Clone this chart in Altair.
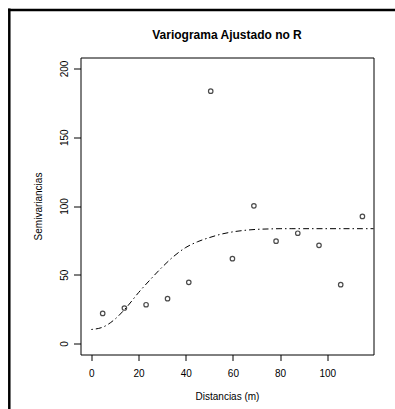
import altair as alt
import pandas as pd

dist = [4.8, 14.0, 23.2, 32.3, 41.3, 50.6, 59.8, 68.9, 78.3, 87.5, 96.5, 105.7, 114.9]
semiv = [21.9, 25.8, 28.2, 32.6, 44.5, 183.5, 61.7, 100.1, 74.4, 80.2, 71.4, 42.8, 92.4]

# Fitted model curve
curve_x = [0, 5, 10, 15, 20, 25, 30, 35, 40, 45, 50, 55, 60, 65, 70, 75, 80, 85, 90, 95, 100, 105, 110, 115, 120]
curve_y = [10.2, 12.0, 17.7, 26.5, 37.0, 46.5, 55.5, 63.5, 69.8, 74.0, 77.0, 79.5, 81.2, 82.3, 83.0, 83.3, 83.5, 83.5, 83.5, 83.5, 83.5, 83.5, 83.5, 83.5, 83.5]

x_ticks = [0, 20, 40, 60, 80, 100]
y_ticks = [0, 50, 100, 150, 200]
title_text = "Variograma Ajustado no R"

pts = pd.DataFrame({"d": dist, "g": semiv})
crv = pd.DataFrame({"d": curve_x, "g": curve_y})

FONT = "Liberation Sans"
W, H = 293, 297

xscale = alt.Scale(domain=[-4.6, 119.6], nice=False, zero=False)
yscale = alt.Scale(domain=[-8, 208], nice=False, zero=False)

xaxis = alt.Axis(
    title="Distancias (m)", values=x_ticks, grid=False, domain=False,
    tickSize=6, tickColor="black", tickWidth=1,
    labelFont=FONT, labelFontSize=10, labelColor="black", labelPadding=8,
    titleFont=FONT, titleFontSize=10, titleFontWeight="normal", titleColor="black",
    titleX=W / 2, titleY=42, titleBaseline="middle", titleAlign="center",
)
yaxis = alt.Axis(
    title="Semivariancias", values=y_ticks, grid=False, domain=False,
    tickSize=7, tickColor="black", tickWidth=1,
    labelFont=FONT, labelFontSize=10, labelColor="black", labelPadding=4,
    labelAngle=-90, labelAlign="center", labelBaseline="bottom",
    titleFont=FONT, titleFontSize=10, titleFontWeight="normal", titleColor="black",
    titleAngle=-90, titleX=-42, titleY=H / 2, titleBaseline="middle", titleAlign="center",
)

points = alt.Chart(pts).mark_point(
    shape="circle", filled=False, color="black", size=20, strokeWidth=1.2
).encode(
    x=alt.X("d:Q", scale=xscale, axis=xaxis),
    y=alt.Y("g:Q", scale=yscale, axis=yaxis),
)

line = alt.Chart(crv).mark_line(
    color="black", strokeWidth=1, strokeDash=[1.5, 3, 6, 3], interpolate="monotone", clip=True
).encode(
    x=alt.X("d:Q", scale=xscale),
    y=alt.Y("g:Q", scale=yscale),
)

single = alt.Data(values=[{"t": title_text}])
title = alt.Chart(single).mark_text(
    font=FONT, fontSize=12, fontWeight="bold", color="black",
    align="center", baseline="middle",
).encode(
    text="t:N", x=alt.value(W / 2), y=alt.value(-23)
)
frame_left = alt.Chart(single).mark_rule(color="black", strokeWidth=2.5).encode(
    x=alt.value(-71.2), y=alt.value(-49), y2=alt.value(360)
)
frame_top = alt.Chart(single).mark_rule(color="black", strokeWidth=2.5).encode(
    y=alt.value(-47.5), x=alt.value(-72.5), x2=alt.value(320)
)

chart = alt.layer(line, points, title, frame_left, frame_top).properties(
    width=W, height=H,
    background="white",
    autosize=alt.AutoSizeParams(type="none"),
    padding={"left": 80.5, "top": 57.5, "right": 21.5, "bottom": 54.5},
).configure_view(
    stroke="black", strokeWidth=1
)

chart.save("out.html", embed_options={"renderer": "svg", "actions": False})
